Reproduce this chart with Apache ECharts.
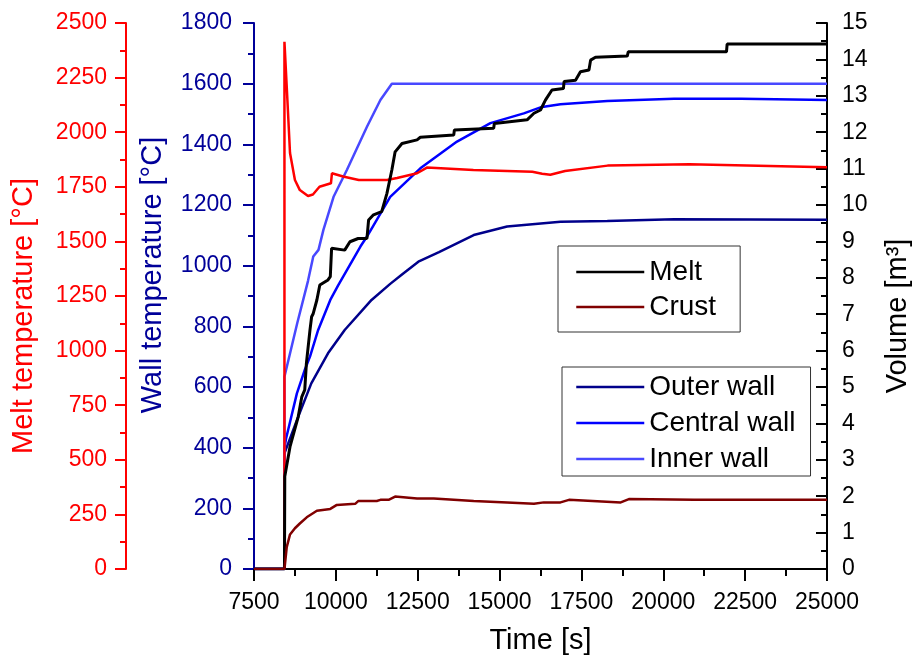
<!DOCTYPE html>
<html>
<head>
<meta charset="utf-8">
<title>Melt, crust and wall temperatures</title>
<script src="https://cdn.jsdelivr.net/npm/echarts@6/dist/echarts.min.js"></script>
<style>
  html, body { margin: 0; padding: 0; background: #fff; }
  #chart { width: 912px; height: 659px; }
</style>
</head>
<body>
<div id="chart"></div>
<script>
// [time s, value] pairs
const meltTemp = [
  [8430, 0], [8430, 2414], [8500, 2208], [8600, 1905], [8750, 1781], [8900, 1735],
  [9150, 1708], [9300, 1715], [9500, 1750], [9850, 1766], [9880, 1812], [10220, 1797],
  [10700, 1781], [11560, 1781], [11870, 1790], [12480, 1812], [12780, 1838], [14200, 1827],
  [16000, 1819], [16300, 1810], [16550, 1805], [17000, 1822], [18300, 1847], [20800, 1853],
  [25000, 1839]
];
const outerWall = [
  [7500, 0], [8430, 0], [8430, 381], [8850, 502], [9250, 612], [9760, 711], [10270, 788],
  [11090, 887], [11660, 940], [12000, 969], [12520, 1013], [13150, 1045], [14210, 1101],
  [15230, 1129], [16860, 1145], [18290, 1147], [20330, 1153], [25000, 1151]
];
const centralWall = [
  [7500, 0], [8430, 0], [8430, 400], [8480, 430], [8810, 579], [9050, 656], [9210, 700],
  [9460, 788], [9830, 887], [10070, 935], [10750, 1063], [10950, 1096], [11660, 1227],
  [12580, 1321], [13700, 1409], [14720, 1470], [15740, 1502], [16250, 1522], [16860, 1532],
  [18290, 1543], [20330, 1550], [22370, 1550], [25000, 1546]
];
const innerWall = [
  [7500, 0], [8430, 0], [8430, 634], [8820, 810], [9150, 950], [9310, 1030], [9470, 1052],
  [9620, 1118], [9930, 1227], [10340, 1316], [10950, 1458], [11360, 1546], [11710, 1600],
  [25000, 1600]
];
const meltVolume = [
  [7500, 0], [8430, 0], [8440, 2.54], [8600, 3.36], [8850, 4.18], [8960, 4.73], [9050, 4.92],
  [9100, 5.65], [9210, 6.57], [9260, 6.93], [9310, 7.02], [9420, 7.39], [9510, 7.8],
  [9760, 7.94], [9830, 8.03], [9870, 8.81], [10270, 8.76], [10430, 8.99], [10680, 9.08],
  [10950, 9.08], [11000, 9.59], [11150, 9.73], [11400, 9.82], [11560, 10.32], [11710, 10.96],
  [11810, 11.46], [12020, 11.69], [12480, 11.79], [12580, 11.86], [13600, 11.92], [13620, 12.06],
  [14820, 12.11], [14840, 12.24], [15840, 12.34], [16050, 12.52], [16250, 12.61], [16400, 12.88],
  [16600, 13.16], [16950, 13.2], [16970, 13.39], [17320, 13.43], [17470, 13.66], [17730, 13.71],
  [17780, 13.98], [17930, 14.06], [18900, 14.09], [18930, 14.21], [21930, 14.21], [21950, 14.42],
  [25000, 14.42]
];
const crustVolume = [
  [7500, 0], [8430, 0], [8500, 0.6], [8600, 0.95], [8750, 1.12], [8900, 1.25], [9110, 1.42],
  [9420, 1.6], [9830, 1.65], [10030, 1.76], [10590, 1.79], [10690, 1.87], [11250, 1.87],
  [11360, 1.9], [11610, 1.9], [11810, 1.99], [12480, 1.94], [12990, 1.94], [14210, 1.87],
  [15230, 1.83], [16050, 1.79], [16350, 1.83], [16860, 1.83], [17120, 1.9], [18700, 1.83],
  [18950, 1.92], [20940, 1.9], [25000, 1.9]
];

const FONT = 'Liberation Sans, Arial, sans-serif';
const WALL_BLUE = '#000099';
const plain = v => String(v);

// common look for one y axis
const yAxisStyle = (color, inside, margin) => ({
  type: 'value',
  axisLine: { show: true, lineStyle: { color: color, width: 2 } },
  axisTick: { show: true, inside: inside, length: 11, lineStyle: { color: color, width: 2 } },
  minorTick: { show: true, splitNumber: 2, length: 6, lineStyle: { color: color, width: 2 } },
  splitLine: { show: false },
  axisLabel: { color: color, fontSize: 23, margin: margin, fontFamily: FONT, formatter: plain },
  nameLocation: 'middle',
  nameRotate: 90
});

const lineSeries = (name, data, color, yIndex, width) => ({
  name: name,
  type: 'line',
  data: data,
  yAxisIndex: yIndex,
  symbol: 'none',
  lineStyle: { color: color, width: width },
  itemStyle: { color: color }
});

const legendBase = {
  orient: 'vertical',
  itemWidth: 68, itemHeight: 14,
  borderColor: '#333', borderWidth: 1,
  selectedMode: false,
  itemStyle: { opacity: 0 },
  lineStyle: { width: 2.5 },
  textStyle: { color: '#000', fontSize: 28, fontFamily: FONT }
};

let chart = echarts.init(document.getElementById('chart'));
chart.setOption({
  animation: false,
  textStyle: { fontFamily: FONT },
  grid: { left: 254, right: 85, top: 23, bottom: 90, outerBoundsMode: 'none' },
  xAxis: {
    type: 'value',
    min: 7500,
    max: 25000,
    interval: 2500,
    axisLine: { onZero: false, lineStyle: { color: '#000', width: 2 } },
    axisTick: { length: 12, lineStyle: { color: '#000', width: 2 } },
    minorTick: { show: true, splitNumber: 2, length: 7, lineStyle: { color: '#000', width: 2 } },
    splitLine: { show: false },
    axisLabel: { color: '#000', fontSize: 23, margin: 22, fontFamily: FONT, formatter: plain },
    name: 'Time [s]',
    nameLocation: 'middle',
    nameGap: 57,
    nameTextStyle: { color: '#000', fontSize: 29, fontFamily: FONT }
  },
  yAxis: [
    Object.assign(yAxisStyle(WALL_BLUE, false, 22), {
      position: 'left', min: 0, max: 1800, interval: 200,
      name: 'Wall temperature [°C]', nameGap: 87,
      nameTextStyle: { color: WALL_BLUE, fontSize: 29, fontFamily: FONT, padding: [0, 0, 0, 42] }
    }),
    Object.assign(yAxisStyle('#ff0000', false, 19), {
      position: 'left', offset: 128, min: 0, max: 2500, interval: 250,
      name: 'Melt temperature [°C]', nameGap: 88,
      nameTextStyle: { color: '#ff0000', fontSize: 29, fontFamily: FONT, padding: [0, 40, 0, 0] }
    }),
    Object.assign(yAxisStyle('#000', true, 15), {
      position: 'right', min: 0, max: 15, interval: 1,
      name: 'Volume [m³]', nameGap: 56,
      nameTextStyle: { color: '#000', fontSize: 29, fontFamily: FONT, padding: [0, 40, 0, 0] }
    })
  ],
  legend: [
    Object.assign({}, legendBase, {
      left: 558, top: 246,
      data: ['Melt', 'Crust'],
      itemGap: 7,
      padding: [12, 24, 11, 17]
    }),
    Object.assign({}, legendBase, {
      left: 562, top: 367,
      data: ['Outer wall', 'Central wall', 'Inner wall'],
      itemGap: 8,
      padding: [6, 15, 3, 13]
    })
  ],
  series: [
    lineSeries('Outer wall', outerWall, '#00008b', 0, 2.5),
    lineSeries('Central wall', centralWall, '#0000ff', 0, 2.5),
    lineSeries('Inner wall', innerWall, '#4848ff', 0, 2.5),
    lineSeries('Melt temperature', meltTemp, '#ff0000', 1, 2.5),
    lineSeries('Melt', meltVolume, '#000000', 2, 3),
    lineSeries('Crust', crustVolume, '#800000', 2, 2.5)
  ]
});
</script>
</body>
</html>
